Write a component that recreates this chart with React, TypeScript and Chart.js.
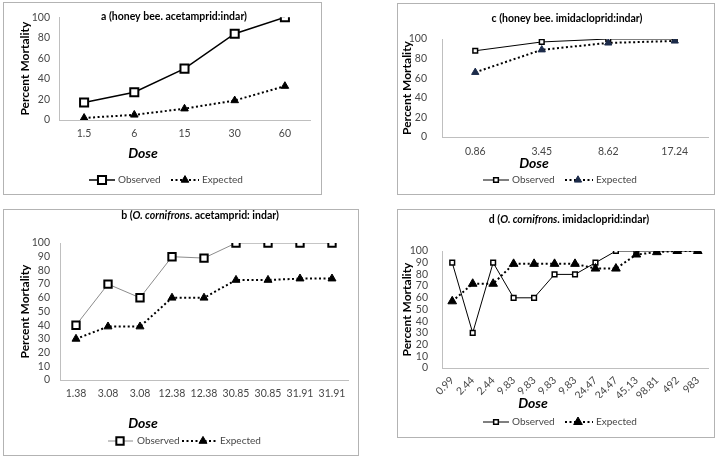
import React, { useEffect, useRef } from 'react';
import { Chart, registerables } from 'chart.js';

Chart.register(...registerables);

// ---------- data ----------
const aDoses = ['1.5', '6', '15', '30', '60'];
const aObserved = [17, 27, 50, 84, 100];
const aExpected = [2, 5, 11, 19, 33];

const bDoses = ['1.38', '3.08', '3.08', '12.38', '12.38', '30.85', '30.85', '31.91', '31.91'];
const bObserved = [40, 70, 60, 90, 89, 100, 100, 100, 100];
const bExpected = [30, 39, 39, 60, 60, 73, 73, 74, 74];

const cDoses = ['0.86', '3.45', '8.62', '17.24'];
const cObserved = [88, 97, 100, 100];
const cExpected = [66, 89, 96, 98];

const dDoses = ['0.99', '2.44', '2.44', '9.83', '9.83', '9.83', '9.83', '24.47', '24.47', '45.13', '98.81', '492', '983'];
const dObserved = [90, 30, 90, 60, 60, 80, 80, 90, 100, 100, 100, 100, 100];
const dExpected = [57, 72, 72, 89, 89, 89, 89, 85, 85, 97, 99, 100, 100];

const seriesNames = ['Observed', 'Expected'];
const yAxisLabel = 'Percent Mortality';
const xAxisLabel = 'Dose';

const titleA = [{ text: 'a (honey bee. acetamprid:indar)' }];
const titleB = [{ text: 'b (' }, { text: 'O. cornifrons', italic: true }, { text: '. acetamprid: indar)' }];
const titleC = [{ text: 'c (honey bee. imidacloprid:indar)' }];
const titleD = [{ text: 'd (' }, { text: 'O. cornifrons', italic: true }, { text: '. imidacloprid:indar)' }];

// ---------- styling ----------
const FONT = "Lato, 'Open Sans', sans-serif";
const TICK_COLOR = '#474747';
const AXIS_COLOR = '#bfbfbf';

type Seg = { text: string; italic?: boolean };
type LegendPos = { x1: number; x2: number; m: number; t: number };
interface Spec {
  box: { x: number; y: number; w: number; h: number };
  plot: { l: number; t: number; r: number; b: number };
  title: Seg[];
  titleX: number;
  titleY: number;
  doseX: number;
  doseY: number;
  labels: string[];
  observed: number[];
  expected: number[];
  yStep: number;
  yTickPad: number;
  yTitlePad: number;
  xTickPad: number;
  rotate: number;
  obsLineColor: string;
  obsLineWidth: number;
  obsRadius: number;
  obsBorder: number;
  expRadius: number;
  expPointColor: string;
  legendY: number;
  legend: LegendPos[];
}

const specs: Spec[] = [
  {
    box: { x: 3, y: 2, w: 319, h: 193 },
    plot: { l: 59, t: 14, r: 310, b: 120 },
    title: titleA, titleX: 174, titleY: 17,
    doseX: 143, doseY: 153,
    labels: aDoses, observed: aObserved, expected: aExpected,
    yStep: 20, yTickPad: 9, yTitlePad: 15, xTickPad: 7, rotate: 0,
    obsLineColor: '#000', obsLineWidth: 1.5, obsRadius: 5.7, obsBorder: 2,
    expRadius: 4.4, expPointColor: '#000',
    legendY: 180,
    legend: [{ x1: 89, x2: 115, m: 102, t: 118 }, { x1: 171, x2: 199, m: 185, t: 202 }],
  },
  {
    box: { x: 3, y: 209, w: 356, h: 247 },
    plot: { l: 60, t: 243, r: 348, b: 380 },
    title: titleB, titleX: 200, titleY: 216,
    doseX: 143, doseY: 423,
    labels: bDoses, observed: bObserved, expected: bExpected,
    yStep: 10, yTickPad: 10, yTitlePad: 15, xTickPad: 7, rotate: 0,
    obsLineColor: '#8c8c8c', obsLineWidth: 1, obsRadius: 5.2, obsBorder: 2,
    expRadius: 4.6, expPointColor: '#000',
    legendY: 441,
    legend: [{ x1: 108, x2: 133, m: 120, t: 137 }, { x1: 182, x2: 217, m: 203, t: 220 }],
  },
  {
    box: { x: 397, y: 3, w: 318, h: 192 },
    plot: { l: 442, t: 39, r: 708, b: 137 },
    title: titleC, titleX: 567, titleY: 19,
    doseX: 534, doseY: 163,
    labels: cDoses, observed: cObserved, expected: cExpected,
    yStep: 20, yTickPad: 15, yTitlePad: 3, xTickPad: 8, rotate: 0,
    obsLineColor: '#000', obsLineWidth: 1, obsRadius: 3.3, obsBorder: 1.5,
    expRadius: 4.2, expPointColor: '#1c2b4a',
    legendY: 180,
    legend: [{ x1: 483, x2: 509, m: 496, t: 512 }, { x1: 565, x2: 593, m: 578, t: 596 }],
  },
  {
    box: { x: 397, y: 209, w: 318, h: 229 },
    plot: { l: 442, t: 251, r: 708, b: 368 },
    title: titleD, titleX: 569, titleY: 220,
    doseX: 533, doseY: 403,
    labels: dDoses, observed: dObserved, expected: dExpected,
    yStep: 10, yTickPad: 14, yTitlePad: 3, xTickPad: 6, rotate: 45,
    obsLineColor: '#000', obsLineWidth: 1, obsRadius: 3.3, obsBorder: 1.5,
    expRadius: 5, expPointColor: '#000',
    legendY: 422,
    legend: [{ x1: 483, x2: 509, m: 496, t: 512 }, { x1: 565, x2: 593, m: 578, t: 596 }],
  },
];

function drawMarker(ctx: CanvasRenderingContext2D, style: string, x: number, y: number, r: number, fill: string, stroke: string, bw: number) {
  ctx.save();
  ctx.setLineDash([]);
  ctx.beginPath();
  if (style === 'rect') {
    const s = r * Math.SQRT1_2;
    ctx.rect(x - s, y - s, 2 * s, 2 * s);
  } else {
    let rad = 0;
    ctx.moveTo(x + Math.sin(rad) * r, y - Math.cos(rad) * r);
    rad += (2 * Math.PI) / 3;
    ctx.lineTo(x + Math.sin(rad) * r, y - Math.cos(rad) * r);
    rad += (2 * Math.PI) / 3;
    ctx.lineTo(x + Math.sin(rad) * r, y - Math.cos(rad) * r);
    ctx.closePath();
  }
  ctx.fillStyle = fill;
  ctx.fill();
  ctx.lineWidth = bw;
  ctx.strokeStyle = stroke;
  ctx.stroke();
  ctx.restore();
}

function textPlugin(s: Spec) {
  return {
    id: 'panelText',
    afterDraw(chart: any) {
      const ctx: CanvasRenderingContext2D = chart.ctx;
      const ox = s.box.x;
      const oy = s.box.y;
      ctx.save();
      // panel title (mixed italic segments)
      ctx.textBaseline = 'middle';
      ctx.textAlign = 'left';
      ctx.fillStyle = '#000';
      const fontFor = (seg: Seg) => `${seg.italic ? 'italic ' : ''}bold 10.5px ${FONT}`;
      let total = 0;
      s.title.forEach((seg) => {
        ctx.font = fontFor(seg);
        total += ctx.measureText(seg.text).width;
      });
      let cx = s.titleX - ox - total / 2;
      s.title.forEach((seg) => {
        ctx.font = fontFor(seg);
        ctx.fillText(seg.text, cx, s.titleY - oy);
        cx += ctx.measureText(seg.text).width;
      });
      // x axis title
      ctx.font = `italic bold 14px ${FONT}`;
      ctx.textAlign = 'center';
      ctx.fillText(xAxisLabel, s.doseX - ox, s.doseY - oy);
      // legend
      chart.data.datasets.forEach((ds: any, i: number) => {
        const p = s.legend[i];
        const y = s.legendY - oy;
        ctx.save();
        ctx.beginPath();
        ctx.setLineDash(ds.borderDash || []);
        ctx.strokeStyle = ds.borderColor;
        ctx.lineWidth = ds.borderWidth;
        ctx.moveTo(p.x1 - ox, y);
        ctx.lineTo(p.x2 - ox, y);
        ctx.stroke();
        ctx.restore();
        drawMarker(ctx, ds.pointStyle, p.m - ox, y, ds.pointRadius, ds.pointBackgroundColor, ds.pointBorderColor, ds.pointBorderWidth);
        ctx.font = `10px ${FONT}`;
        ctx.fillStyle = TICK_COLOR;
        ctx.textAlign = 'left';
        ctx.textBaseline = 'middle';
        ctx.fillText(ds.label, p.t - ox, y);
      });
      ctx.restore();
    },
  };
}

function Panel({ spec }: { spec: Spec }) {
  const ref = useRef<HTMLCanvasElement>(null);
  useEffect(() => {
    const s = spec;
    const { box, plot } = s;
    const yW = plot.l - box.x;
    const xH = 30;
    const padTop = plot.t - box.y;
    const padRight = box.x + box.w - plot.r;
    const padBottom = box.y + box.h - plot.b - xH;
    const tickFont = { family: FONT, size: 10.5 };
    const chart = new Chart(ref.current as HTMLCanvasElement, {
      type: 'line',
      data: {
        labels: s.labels,
        datasets: [
          {
            label: seriesNames[0],
            data: s.observed,
            borderColor: s.obsLineColor,
            borderWidth: s.obsLineWidth,
            pointStyle: 'rect',
            pointRadius: s.obsRadius,
            pointBackgroundColor: '#fff',
            pointBorderColor: '#000',
            pointBorderWidth: s.obsBorder,
            tension: 0,
            order: 2,
          },
          {
            label: seriesNames[1],
            data: s.expected,
            borderColor: '#000',
            borderWidth: 2,
            borderDash: [2, 2.5],
            pointStyle: 'triangle',
            pointRadius: s.expRadius,
            pointBackgroundColor: s.expPointColor,
            pointBorderColor: s.expPointColor,
            pointBorderWidth: 1,
            tension: 0,
            order: 1,
          },
        ],
      },
      options: {
        animation: false,
        responsive: false,
        maintainAspectRatio: false,
        events: [],
        layout: { padding: { left: 0, top: padTop, right: padRight, bottom: padBottom }, autoPadding: false },
        plugins: { legend: { display: false }, tooltip: { enabled: false }, title: { display: false } },
        scales: {
          x: {
            type: 'category',
            offset: true,
            grid: { display: false, drawTicks: false },
            border: { display: true, color: AXIS_COLOR, width: 1 },
            ticks: {
              autoSkip: false,
              maxRotation: s.rotate,
              minRotation: s.rotate,
              padding: s.xTickPad,
              color: TICK_COLOR,
              font: tickFont,
            },
            afterFit: (sc: any) => { sc.height = xH; },
          },
          y: {
            min: 0,
            max: 100,
            ticks: { stepSize: s.yStep, autoSkip: false, padding: s.yTickPad, color: TICK_COLOR, font: tickFont },
            grid: { display: false, drawTicks: false },
            border: { display: true, color: AXIS_COLOR, width: 1 },
            title: {
              display: true,
              text: yAxisLabel,
              color: '#000',
              font: { family: FONT, size: 12, weight: 'bold' },
              padding: { top: s.yTitlePad, bottom: 0 },
            },
            afterFit: (sc: any) => { sc.width = yW; },
          },
        },
      } as any,
      plugins: [textPlugin(s)],
    });
    return () => chart.destroy();
  }, [spec]);
  const { box } = spec;
  return (
    <>
      <div
        style={{
          position: 'absolute', left: box.x, top: box.y, width: box.w, height: box.h,
          boxSizing: 'border-box', border: '1px solid #b3b3b3', background: '#fff',
        }}
      />
      <canvas
        ref={ref}
        width={box.w}
        height={box.h}
        style={{ position: 'absolute', left: box.x, top: box.y, width: box.w, height: box.h }}
      />
    </>
  );
}

export default function App() {
  return (
    <div style={{ position: 'absolute', left: 0, top: 0, width: 719, height: 460, background: '#fff', overflow: 'hidden' }}>
      {specs.map((s, i) => (
        <Panel key={i} spec={s} />
      ))}
    </div>
  );
}
